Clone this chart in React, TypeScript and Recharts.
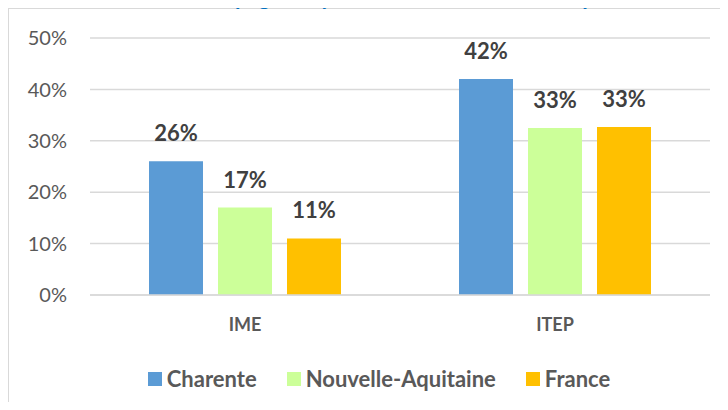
import React from "react";
import { BarChart, Bar, XAxis, YAxis, CartesianGrid, LabelList } from "recharts";

const categories = ["IME", "ITEP"];
const charente = [0.26, 0.42];
const nouvelleAquitaine = [0.17, 0.325];
const france = [0.11, 0.327];
const yTicks = [0, 0.1, 0.2, 0.3, 0.4, 0.5];

const series = [
  { key: "charente", name: "Charente", color: "#5B9BD5" },
  { key: "nouvelleAquitaine", name: "Nouvelle-Aquitaine", color: "#CCFF99" },
  { key: "france", name: "France", color: "#FFC000" },
];

const data = categories.map((cat, i) => ({
  cat,
  charente: charente[i],
  nouvelleAquitaine: nouvelleAquitaine[i],
  france: france[i],
}));

const FONT = "Lato, 'Liberation Sans', sans-serif";
const pct = (v: number) => `${Math.round(v * 100)}%`;

export default function App() {
  return (
    <div
      style={{
        position: "relative",
        width: 728,
        height: 410,
        margin: -8,
        overflow: "hidden",
        background: "#fff",
        fontFamily: FONT,
      }}
    >
      {/* card border, its right and bottom edges fall outside the frame */}
      <div
        style={{
          position: "absolute",
          left: 8,
          top: 8,
          width: 742,
          height: 420,
          border: "1px solid #d9d9d9",
          boxSizing: "border-box",
        }}
      />
      <BarChart
        width={728}
        height={410}
        data={data}
        margin={{ top: 38, right: 18, bottom: 75, left: 30 }}
        barSize={54}
        barGap={15}
        style={{ position: "absolute", left: 0, top: 0 }}
      >
        <CartesianGrid vertical={false} stroke="#d9d9d9" strokeWidth={1.5} />
        <XAxis
          dataKey="cat"
          height={40}
          axisLine={{ stroke: "#d9d9d9", strokeWidth: 1.5 }}
          tickLine={false}
          tickSize={0}
          tickMargin={23}
          tick={{ fill: "#595959", fontSize: 18, fontWeight: 700, fontFamily: FONT }}
        />
        <YAxis
          width={60}
          domain={[0, 0.5]}
          ticks={yTicks}
          tickFormatter={pct}
          axisLine={false}
          tickLine={false}
          tickSize={0}
          tickMargin={23}
          tick={{ fill: "#595959", fontSize: 20, fontFamily: FONT }}
        />
        {series.map((s) => (
          <Bar key={s.key} dataKey={s.key} name={s.name} fill={s.color} isAnimationActive={false}>
            <LabelList
              dataKey={s.key}
              position="top"
              offset={20}
              formatter={(v: number) => pct(v)}
              fill="#404040"
              fontSize={22}
              fontWeight={700}
              fontFamily={FONT}
            />
          </Bar>
        ))}
      </BarChart>
      {/* title, cut off by the top of the frame like in the source */}
      <div
        style={{
          position: "absolute",
          left: 8,
          top: -17,
          width: 742,
          textAlign: "center",
          color: "#0070C0",
          fontSize: 22,
          fontWeight: 700,
          lineHeight: "28px",
          whiteSpace: "nowrap",
        }}
      >
        Part des enfants accompagnés ayant une scolarité à l'école par établissement (2018)
      </div>
      <div
        style={{
          position: "absolute",
          left: 8,
          top: 365,
          width: 742,
          display: "flex",
          justifyContent: "center",
          gap: 30,
          lineHeight: "28px",
        }}
      >
        {series.map((s) => (
          <div key={s.key} style={{ display: "flex", alignItems: "center", gap: 5 }}>
            <span style={{ width: 14, height: 14, background: s.color, display: "inline-block" }} />
            <span style={{ color: "#595959", fontSize: 22, fontWeight: 700 }}>{s.name}</span>
          </div>
        ))}
      </div>
    </div>
  );
}
